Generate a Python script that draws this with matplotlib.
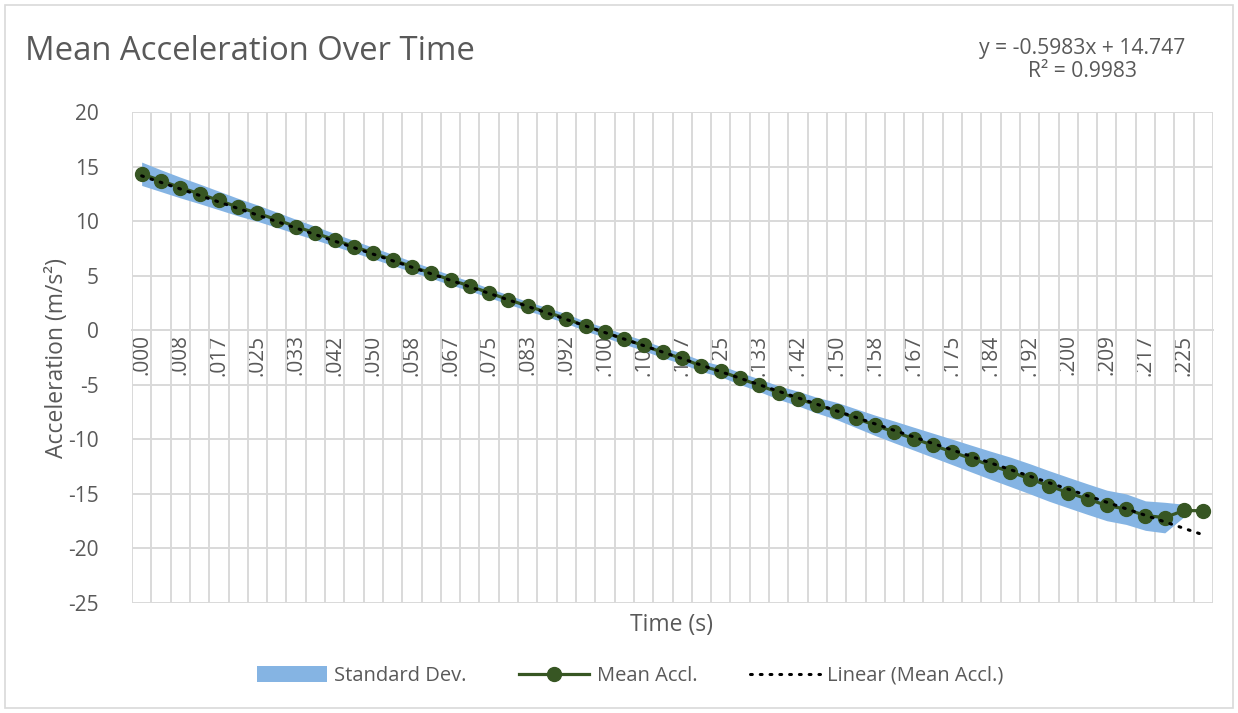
import matplotlib.pyplot as plt
import numpy as np
from matplotlib.patches import Patch, Rectangle
from matplotlib.lines import Line2D

# ---- data ----
TIME_LABELS = [".000", ".008", ".017", ".025", ".033", ".042", ".050", ".058",
               ".067", ".075", ".083", ".092", ".100", ".108", ".117", ".125",
               ".133", ".142", ".150", ".158", ".167", ".175", ".184", ".192",
               ".200", ".209", ".217", ".225"]

MEAN_ACCL = [14.34, 13.70, 13.08, 12.50, 11.89, 11.28, 10.73, 10.12, 9.50, 8.90,
             8.28, 7.67, 7.06, 6.45, 5.83, 5.23, 4.61, 4.05, 3.42, 2.81,
             2.20, 1.65, 1.07, 0.36, -0.20, -0.82, -1.40, -2.04, -2.59, -3.28,
             -3.75, -4.42, -5.05, -5.72, -6.26, -6.88, -7.40, -8.06, -8.72, -9.33,
             -9.94, -10.55, -11.16, -11.78, -12.39, -12.98, -13.61, -14.27, -14.88, -15.48,
             -16.06, -16.40, -16.99, -17.17, -16.52, -16.55]

STD_DEV = [1.07, 1.00, 0.95, 0.90, 0.85, 0.80, 0.75, 0.70, 0.66, 0.62,
           0.58, 0.55, 0.52, 0.50, 0.48, 0.46, 0.45, 0.44, 0.43, 0.42,
           0.42, 0.42, 0.43, 0.44, 0.45, 0.46, 0.47, 0.48, 0.49, 0.50,
           0.52, 0.55, 0.58, 0.62, 0.67, 0.72, 0.79, 0.86, 0.93, 1.00,
           1.05, 1.11, 1.17, 1.23, 1.29, 1.35, 1.38, 1.40, 1.40, 1.40,
           1.40, 1.40, 1.35, 1.40, 0.57]

TREND_SLOPE = -0.5983
TREND_INTERCEPT = 14.747
R_SQUARED = 0.9983

TEXT_COLOR = "#595959"
GRID_COLOR = "#d9d9d9"
BAND_COLOR = "#85b4e3"
MEAN_COLOR = "#375623"

plt.rcParams['font.family'] = ['Open Sans', 'DejaVu Sans']
plt.rcParams['axes.unicode_minus'] = False

fig = plt.figure(figsize=(12.38, 7.13), dpi=100)
ax = fig.add_axes([132 / 1238, 1 - 603 / 713, (1213 - 132) / 1238, (603 - 112) / 713])

n = len(MEAN_ACCL)
idx = np.arange(n)
mean = np.array(MEAN_ACCL)
std = np.array(STD_DEV)
band_idx = np.arange(len(std))

# standard deviation band
ax.fill_between(band_idx, mean[:len(std)] - std, mean[:len(std)] + std,
                color=BAND_COLOR, lw=0, zorder=2)

# mean line
ax.plot(idx, mean, color=MEAN_COLOR, lw=2.3, marker="o", markersize=10, zorder=3)

# excel style linear trendline (x = 1..n)
trend = TREND_SLOPE * (idx + 1) + TREND_INTERCEPT
ax.plot(idx, trend, color="black", lw=2.2, linestyle=(0, (0.6, 2.6)),
        dash_capstyle="round", zorder=4)

# axes
ax.set_xlim(-0.5, n - 0.5)
ax.set_ylim(-25, 20)
ax.set_yticks(np.arange(-25, 21, 5))
ax.set_xticks(np.arange(0, n, 2))
ax.set_xticklabels(TIME_LABELS)
ax.set_xticks(np.arange(-0.5, n, 1), minor=True)

ax.grid(which="minor", axis="x", color=GRID_COLOR, lw=1.4)
ax.grid(which="major", axis="y", color=GRID_COLOR, lw=1.4)
ax.set_axisbelow(True)

for s in ["top", "right", "left"]:
    ax.spines[s].set_visible(False)
ax.spines["bottom"].set_position(("data", 0))
ax.spines["bottom"].set_color(GRID_COLOR)
ax.spines["bottom"].set_linewidth(1.4)

ax.tick_params(axis="both", which="both", length=0, labelcolor=TEXT_COLOR, labelsize=15)
ax.tick_params(axis="y", pad=24)
ax.tick_params(axis="x", pad=3, labelrotation=90)
for lbl in ax.get_xticklabels():
    lbl.set_verticalalignment("top")

ax.set_ylabel("Acceleration (m/s²)", color=TEXT_COLOR, fontsize=16.5, labelpad=-1)
fig.text(672 / 1238, 1 - 625 / 713, "Time (s)", color=TEXT_COLOR, fontsize=16.5,
         ha="center", va="center")

fig.text(25 / 1238, 1 - 52 / 713, "Mean Acceleration Over Time", color=TEXT_COLOR,
         fontsize=23.7, ha="left", va="center")
fig.text(1082 / 1238, 1 - 60 / 713,
         f"y = {TREND_SLOPE}x + {TREND_INTERCEPT}\nR² = {R_SQUARED}",
         color=TEXT_COLOR, fontsize=15.2, ha="center", va="center", linespacing=1.15)

handles = [
    Patch(facecolor=BAND_COLOR, edgecolor="none"),
    Line2D([], [], color=MEAN_COLOR, lw=2.3, marker="o", markersize=10),
    Line2D([], [], color="black", lw=2.2, linestyle=(0, (0.6, 2.6)), dash_capstyle="round"),
]
fig.legend(handles, ["Standard Dev.", "Mean Accl.", "Linear (Mean Accl.)"],
           loc="center", bbox_to_anchor=(630 / 1238, 1 - 676 / 713), ncol=3,
           frameon=False, fontsize=14.5, labelcolor=TEXT_COLOR, handlelength=3.5,
           handleheight=0.8, columnspacing=2.6, handletextpad=0.35)

# chart border
fig.patches.append(Rectangle((5 / 1238, 5 / 713), 1 - 10 / 1238, 1 - 10 / 713,
                             transform=fig.transFigure, fill=False,
                             edgecolor=GRID_COLOR, lw=1.2))

fig.savefig("out.png", dpi=100)
